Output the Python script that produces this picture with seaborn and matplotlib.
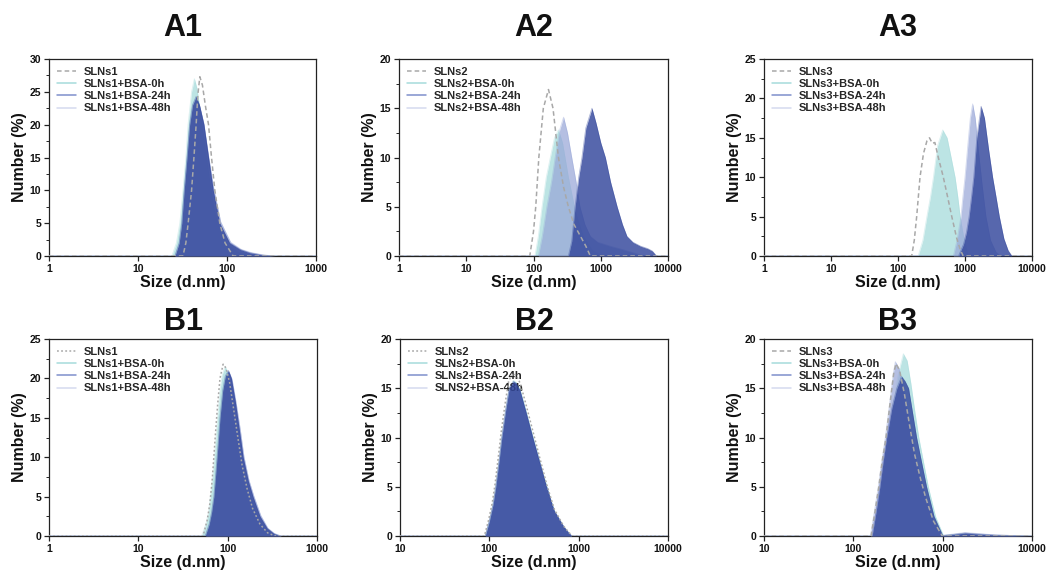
import numpy as np
import pandas as pd
import matplotlib
matplotlib.use("Agg")
import matplotlib.pyplot as plt
from matplotlib.lines import Line2D
from matplotlib.ticker import FixedLocator, MultipleLocator, NullLocator
import seaborn as sns

# ---------------- data (size in d.nm, number %) ----------------
# A1
A1_ref_x = [1, 32, 34.5, 36.6, 40, 42.5, 45, 47, 49.5, 53, 57, 62, 67, 73, 83, 95, 117, 1000]
A1_ref_y = [0, 0, 2, 5, 10, 15, 20, 24.5, 27.3, 26, 23, 20, 15, 10, 5, 2, 0, 0]
A1_0h_x = [1, 24, 27, 29.5, 32, 34.5, 36.5, 40, 43, 46, 50, 56, 63, 72, 85, 105, 140, 200, 280, 1000]
A1_0h_y = [0, 0, 2, 5, 10, 15, 20, 25, 27, 25.5, 22, 17, 12, 7, 3.5, 1.5, 0.5, 0.1, 0, 0]
A1_24_x = [1, 26, 29, 31, 33, 35.5, 38, 41, 45, 49, 55, 62, 70, 83, 107, 140, 180, 250, 330, 1000]
A1_24_y = [0, 0, 2, 5, 10, 15, 20, 23, 24.3, 23, 20, 15, 10, 5, 2, 1, 0.5, 0.15, 0, 0]
A1_48_x = [1, 26, 29, 31, 33, 35.5, 38, 41, 45, 49, 55, 62, 71, 85, 110, 145, 190, 260, 350, 1000]
A1_48_y = [0, 0, 1.8, 4.6, 9.5, 14.5, 19.5, 22.8, 24, 23, 20.2, 15.3, 10.3, 5.2, 2.1, 1, 0.5, 0.15, 0, 0]

# A2
A2_ref_x = [1, 88, 100, 108, 120, 140, 167, 195, 235, 280, 330, 400, 500, 600, 700, 10000]
A2_ref_y = [0, 0, 2.5, 5, 10, 15, 16.9, 15, 10, 7, 5, 3.2, 2, 1, 0, 0]
A2_0h_x = [1, 105, 118, 134, 155, 178, 205, 235, 270, 330, 420, 550, 750, 1000, 1300, 10000]
A2_0h_y = [0, 0, 2, 5, 8, 10, 12, 12.8, 11.5, 8, 4.5, 2, 0.6, 0.1, 0, 0]
A2_24_x = [1, 330, 370, 415, 470, 525, 600, 740, 850, 1000, 1170, 1400, 1750, 2100, 2450, 3000, 3900, 5000, 5850, 6750, 10000]
A2_24_y = [0, 0, 1.5, 5, 8, 10, 13, 15, 13.5, 11.5, 10, 7.5, 5, 3.2, 2, 1.4, 1, 0.75, 0.5, 0, 0]
A2_48_x = [1, 118, 135, 158, 185, 210, 245, 280, 320, 370, 430, 490, 580, 700, 900, 1380, 2000, 3000, 4400, 10000]
A2_48_y = [0, 0, 2, 5, 7.5, 10, 12.8, 14.1, 12.5, 10, 7.5, 5, 3.2, 2, 1.4, 1, 0.7, 0.35, 0, 0]

# A3
A3_ref_x = [1, 160, 175, 190, 213, 240, 270, 295, 325, 355, 400, 475, 550, 635, 750, 850, 940, 10000]
A3_ref_y = [0, 0, 2, 5, 10, 13, 14.6, 15, 14.3, 14.4, 12.5, 10, 7.5, 5, 2.3, 0.8, 0, 0]
A3_0h_x = [1, 200, 235, 270, 305, 338, 390, 465, 540, 620, 710, 780, 845, 950, 1120, 10000]
A3_0h_y = [0, 0, 2, 5, 7.5, 10, 14, 16, 15, 12.5, 10, 7.5, 5, 2.5, 0, 0]
A3_24_x = [1, 800, 950, 1050, 1150, 1250, 1350, 1500, 1740, 1950, 2250, 2580, 2900, 3250, 3800, 4400, 5000, 10000]
A3_24_y = [0, 0, 1.5, 3, 5, 7.5, 10, 15, 19, 17.5, 13.5, 10, 7.5, 5, 2.2, 0.7, 0, 0]
A3_48_x = [1, 670, 760, 870, 930, 1000, 1100, 1200, 1300, 1420, 1600, 1800, 2050, 2400, 2900, 3400, 10000]
A3_48_y = [0, 0, 2, 5, 7.5, 10, 14, 17.5, 19.3, 17.5, 13, 9, 5, 2, 0.5, 0, 0]

# B1
B1_ref_x = [1, 53, 59, 63, 67, 70, 73, 77, 82, 89, 96, 105, 117, 130, 145, 165, 190, 230, 280, 340, 1000]
B1_ref_y = [0, 0, 2, 4, 7, 10, 13, 16.5, 20, 21.8, 21.3, 19.5, 16, 12.5, 9, 6, 3.5, 1.5, 0.4, 0, 0]
B1_0h_x = [1, 51, 57, 61, 64, 68, 71, 74, 77, 82, 87, 94, 102, 115, 128, 142, 160, 182, 220, 265, 320, 380, 1000]
B1_0h_y = [0, 0, 1.5, 3, 5, 7.5, 10, 12.5, 15, 18.5, 20.5, 21.5, 20.5, 18, 14, 10.5, 7.5, 5, 2.5, 1, 0.3, 0, 0]
B1_24_x = [1, 56, 62, 66, 70, 73, 76, 79, 82, 88, 94, 102, 110, 122, 135, 149, 170, 192, 230, 276, 330, 390, 1000]
B1_24_y = [0, 0, 1.5, 3, 5, 7.5, 10, 12.5, 15, 18.5, 20.3, 21, 20, 17, 13.5, 10, 7, 5, 2.5, 1, 0.3, 0, 0]
B1_48_x = [1, 57, 63, 67, 71, 74, 77, 80, 84, 90, 96, 104, 112, 124, 138, 152, 173, 196, 235, 282, 336, 400, 1000]
B1_48_y = [0, 0, 1.5, 3, 5, 7.5, 10, 12.5, 15, 18.3, 20, 20.8, 19.9, 17, 13.6, 10.1, 7.1, 5.1, 2.6, 1, 0.3, 0, 0]

# B2
B2_ref_x = [10, 88, 98, 108, 116, 126, 136, 150, 165, 186, 200, 222, 258, 310, 370, 440, 535, 680, 770, 850, 10000]
B2_ref_y = [0, 0, 1.6, 3.4, 5.3, 8, 10.6, 13.4, 15.8, 16.5, 16.3, 15.5, 13.3, 10.5, 7.8, 5.2, 2.7, 1, 0.4, 0, 0]
B2_0h_x = [10, 89, 99, 109, 117, 127, 137, 151, 166, 186, 200, 221, 256, 308, 367, 439, 532, 678, 765, 840, 10000]
B2_0h_y = [0, 0, 1.5, 3.2, 5, 7.5, 10, 12.7, 15, 15.8, 15.6, 14.9, 12.8, 10.1, 7.6, 5.1, 2.6, 1, 0.4, 0, 0]
B2_24_x = [10, 90, 100, 110, 118, 128, 138, 152, 167, 186, 200, 220, 255, 306, 365, 437, 530, 675, 760, 835, 10000]
B2_24_y = [0, 0, 1.5, 3.2, 5, 7.5, 10, 12.7, 15, 15.7, 15.5, 14.8, 12.7, 10, 7.5, 5, 2.6, 1, 0.4, 0, 0]
B2_48_x = [10, 90, 100, 110, 118, 128, 138, 152, 167, 186, 200, 220, 255, 306, 365, 437, 530, 675, 760, 835, 10000]
B2_48_y = [0, 0, 1.5, 3.2, 5, 7.5, 10, 12.7, 15, 15.6, 15.4, 14.7, 12.6, 10, 7.5, 5, 2.6, 1, 0.4, 0, 0]

# B3
B3_ref_x = [10, 158, 175, 193, 210, 232, 258, 283, 300, 330, 375, 425, 485, 565, 650, 790, 990, 10000]
B3_ref_y = [0, 0, 2.5, 5, 7.5, 10, 13.5, 16.5, 17.5, 16.8, 14.3, 11.3, 8.3, 5.8, 3.8, 1.5, 0, 0]
B3_0h_x = [10, 165, 185, 203, 222, 245, 280, 320, 363, 400, 440, 490, 540, 610, 690, 830, 1020, 1300, 1780, 2500, 4000, 10000]
B3_0h_y = [0, 0, 2.5, 5, 7.5, 10, 13.5, 16.5, 18.5, 17.8, 15.5, 12.5, 10, 7.5, 5, 2, 0.05, 0.15, 0.25, 0.15, 0.05, 0]
B3_24_x = [10, 162, 180, 198, 215, 236, 270, 307, 347, 380, 415, 460, 510, 580, 660, 800, 1000, 1300, 1780, 2500, 4000, 6000, 10000]
B3_24_y = [0, 0, 2.5, 5, 7.5, 10, 13, 15, 16.2, 15.7, 15, 12.5, 10, 7.5, 5, 2, 0.05, 0.15, 0.3, 0.2, 0.1, 0.05, 0]
B3_48_x = [10, 155, 172, 190, 207, 228, 255, 280, 295, 325, 370, 420, 480, 560, 640, 780, 980, 1300, 1780, 2500, 4000, 6000, 10000]
B3_48_y = [0, 0, 2.5, 5, 7.5, 10, 13.5, 16.5, 17.7, 17, 14.5, 11.5, 8.5, 6, 4, 1.6, 0.05, 0.2, 0.35, 0.25, 0.1, 0.05, 0]

panel_titles = ["A1", "A2", "A3", "B1", "B2", "B3"]
sample_names = ["SLNs1", "SLNs2", "SLNs3", "SLNs1", "SLNs2", "SLNs3"]
legend_suffix = ["", "+BSA-0h", "+BSA-24h", "+BSA-48h"]
b2_last_label = "SLNS2+BSA-48h"

x_limits = [(1, 1000), (1, 10000), (1, 10000), (1, 1000), (10, 10000), (10, 10000)]
y_limits = [(0, 30), (0, 20), (0, 25), (0, 25), (0, 20), (0, 20)]

# per panel: reference, 0h, 24h, 48h
panels = [
    [(A1_ref_x, A1_ref_y), (A1_0h_x, A1_0h_y), (A1_24_x, A1_24_y), (A1_48_x, A1_48_y)],
    [(A2_ref_x, A2_ref_y), (A2_0h_x, A2_0h_y), (A2_24_x, A2_24_y), (A2_48_x, A2_48_y)],
    [(A3_ref_x, A3_ref_y), (A3_0h_x, A3_0h_y), (A3_24_x, A3_24_y), (A3_48_x, A3_48_y)],
    [(B1_ref_x, B1_ref_y), (B1_0h_x, B1_0h_y), (B1_24_x, B1_24_y), (B1_48_x, B1_48_y)],
    [(B2_ref_x, B2_ref_y), (B2_0h_x, B2_0h_y), (B2_24_x, B2_24_y), (B2_48_x, B2_48_y)],
    [(B3_ref_x, B3_ref_y), (B3_0h_x, B3_0h_y), (B3_24_x, B3_24_y), (B3_48_x, B3_48_y)],
]

# ---------------- style ----------------
sns.set_theme(style="ticks")
plt.rcParams["font.family"] = ["Liberation Sans", "DejaVu Sans"]
plt.rcParams["font.weight"] = "bold"

ref_color = "#a8a8a8"
# index 1: 0h, 2: 24h, 3: 48h
fill_colors = {1: "#a6dbdb", 2: "#32469b", 3: "#96a5d7"}
fill_alphas = {1: 0.75, 2: 0.82, 3: 0.7}
draw_order = [1, 3, 2]
legend_line_colors = ["#a6dbdb", "#7f8fcc", "#d5daef"]

W, H = 1048, 575
fig = plt.figure(figsize=(W / 100, H / 100), dpi=100)

# axes boxes in pixels: left, top, right, bottom
boxes = [
    (49, 59, 316, 256), (399, 59, 668, 256), (764, 59, 1032, 256),
    (49, 339, 317, 536), (400, 339, 668, 536), (764, 339, 1032, 536),
]
title_y = [28, 28, 28, 322, 322, 322]

for i, (l, t, r, b) in enumerate(boxes):
    ax = fig.add_axes([l / W, 1 - b / H, (r - l) / W, (b - t) / H])
    series = panels[i]
    for z, k in enumerate(draw_order):
        xs, ys = series[k]
        ax.fill_between(xs, ys, 0, color=fill_colors[k], alpha=fill_alphas[k],
                        linewidth=0, zorder=2 + 2 * z)
        df = pd.DataFrame({"x": xs, "y": ys})
        sns.lineplot(data=df, x="x", y="y", ax=ax, color=fill_colors[k],
                     alpha=0.4, linewidth=0.6, zorder=3 + 2 * z, sort=False)
    xs, ys = series[0]
    df = pd.DataFrame({"x": xs, "y": ys})
    dash = (3, 2) if i not in (3, 4) else (1.2, 1.5)
    sns.lineplot(data=df, x="x", y="y", ax=ax, color=ref_color, linewidth=1.1,
                 zorder=10, sort=False).lines[-1].set_dashes(dash)

    ax.set_xscale("log")
    ax.set_xlim(*x_limits[i])
    ax.set_ylim(*y_limits[i])
    lo, hi = x_limits[i]
    decades = [10 ** e for e in range(int(np.log10(lo)), int(np.log10(hi)) + 1)]
    ax.xaxis.set_major_locator(FixedLocator(decades))
    ax.set_xticklabels([str(d) for d in decades])
    ax.xaxis.set_minor_locator(NullLocator())
    ax.yaxis.set_major_locator(MultipleLocator(5))
    ax.yaxis.set_minor_locator(MultipleLocator(2.5))
    ax.tick_params(axis="both", which="major", direction="out", length=3.5, width=0.9,
                   labelsize=7.5, pad=2, colors="#222222", labelcolor="#111111")
    ax.tick_params(axis="y", which="minor", direction="out", length=2, width=0.7)
    for lab in ax.get_xticklabels() + ax.get_yticklabels():
        lab.set_fontweight("bold")
    for sp in ax.spines.values():
        sp.set_linewidth(0.9)
        sp.set_color("#222222")
    ax.set_xlabel("Size (d.nm)", fontsize=11.5, fontweight="bold", labelpad=1, color="#111111")
    ax.set_ylabel("Number (%)", fontsize=11.5, fontweight="bold", labelpad=2, color="#111111")

    name = sample_names[i]
    labels = [name + s for s in legend_suffix]
    if i == 4:
        labels[3] = b2_last_label
    handles = [Line2D([0], [0], color=ref_color, lw=1.1, dashes=dash)]
    for c in legend_line_colors:
        handles.append(Line2D([0], [0], color=c, lw=1.1))
    ax.legend(handles, labels, loc="upper left", frameon=False,
              prop={"size": 8, "weight": "bold"}, handlelength=1.7,
              labelspacing=0.2, borderaxespad=0.3, handletextpad=0.7)

    fig.text(((l + r) / 2) / W, 1 - title_y[i] / H, panel_titles[i], ha="center",
             va="center", fontsize=22, fontweight="bold", color="#111111")

fig.savefig("out.png", dpi=100)
